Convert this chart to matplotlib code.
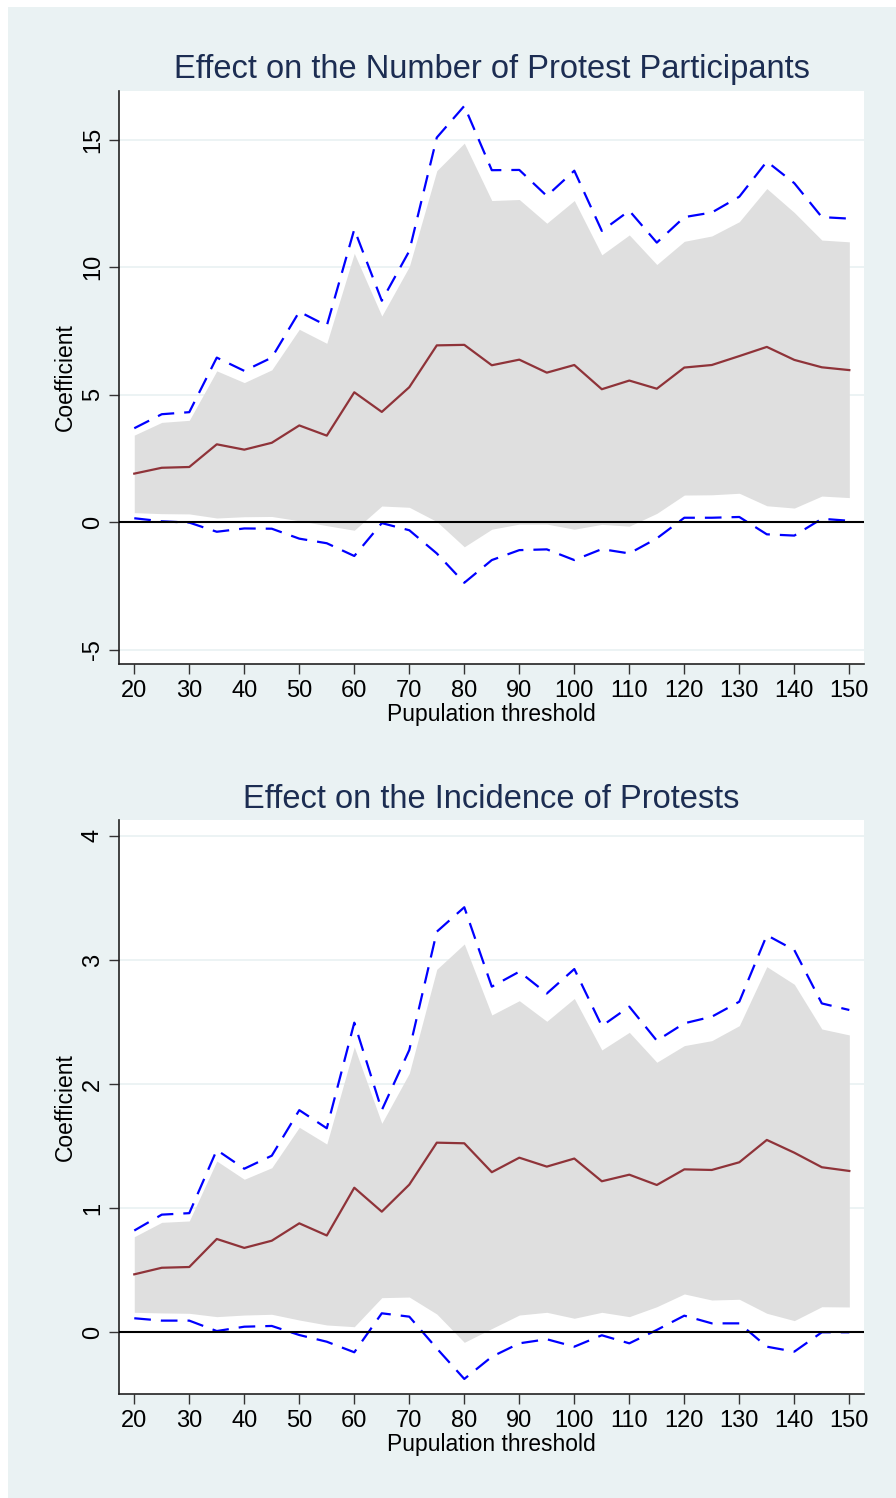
import matplotlib.pyplot as plt
from matplotlib.patches import Rectangle

plt.rcParams['font.family'] = ['Liberation Sans', 'DejaVu Sans']

thresholds = list(range(20, 155, 5))

# panel 1: number of protest participants
part_coef = [1.91, 2.14, 2.17, 3.06, 2.85, 3.12, 3.80, 3.40, 5.10, 4.33, 5.30, 6.94, 6.96, 6.16,
             6.38, 5.87, 6.17, 5.22, 5.56, 5.24, 6.07, 6.17, 6.52, 6.88, 6.37, 6.08, 5.97]
part_hi90 = [3.42, 3.92, 4.00, 5.94, 5.48, 5.98, 7.57, 7.02, 10.55, 8.09, 10.03, 13.79, 14.87, 12.62,
             12.66, 11.73, 12.62, 10.49, 11.27, 10.11, 11.02, 11.23, 11.79, 13.09, 12.15, 11.07, 11.00]
part_lo90 = [0.38, 0.34, 0.33, 0.17, 0.22, 0.23, 0.06, -0.13, -0.31, 0.64, 0.59, 0.03, -0.96, -0.27,
             -0.07, -0.07, -0.27, -0.08, -0.15, 0.35, 1.07, 1.08, 1.14, 0.65, 0.56, 1.03, 0.97]
part_hi95 = [3.69, 4.24, 4.32, 6.46, 5.94, 6.46, 8.26, 7.71, 11.49, 8.69, 10.64, 15.09, 16.33, 13.81,
             13.82, 12.80, 13.79, 11.43, 12.22, 10.97, 11.97, 12.15, 12.77, 14.15, 13.30, 11.97, 11.91]
part_lo95 = [0.16, 0.04, -0.01, -0.37, -0.24, -0.25, -0.64, -0.82, -1.32, -0.03, -0.31, -1.22, -2.37, -1.48,
             -1.09, -1.06, -1.48, -1.05, -1.22, -0.63, 0.18, 0.18, 0.21, -0.47, -0.52, 0.14, 0.06]

# panel 2: incidence of protests
inc_coef = [0.467, 0.52, 0.526, 0.752, 0.68, 0.738, 0.878, 0.78, 1.165, 0.972, 1.19, 1.528, 1.523, 1.29,
            1.407, 1.335, 1.40, 1.217, 1.27, 1.187, 1.313, 1.308, 1.37, 1.55, 1.447, 1.33, 1.30]
inc_hi90 = [0.77, 0.886, 0.897, 1.38, 1.233, 1.326, 1.652, 1.517, 2.30, 1.684, 2.087, 2.925, 3.129, 2.557,
            2.672, 2.506, 2.69, 2.275, 2.417, 2.176, 2.31, 2.35, 2.471, 2.946, 2.804, 2.444, 2.396]
inc_lo90 = [0.161, 0.156, 0.153, 0.126, 0.139, 0.145, 0.099, 0.059, 0.045, 0.279, 0.284, 0.147, -0.081, 0.03,
            0.139, 0.161, 0.113, 0.161, 0.126, 0.206, 0.309, 0.26, 0.266, 0.153, 0.094, 0.206, 0.204]
inc_hi95 = [0.82, 0.948, 0.96, 1.469, 1.318, 1.423, 1.79, 1.644, 2.495, 1.79, 2.275, 3.228, 3.425, 2.785,
            2.906, 2.73, 2.927, 2.468, 2.624, 2.35, 2.49, 2.543, 2.664, 3.20, 3.08, 2.65, 2.597]
inc_lo95 = [0.113, 0.094, 0.094, 0.01, 0.045, 0.051, -0.022, -0.076, -0.161, 0.153, 0.126, -0.13, -0.376, -0.197,
            -0.089, -0.056, -0.116, -0.024, -0.089, 0.019, 0.134, 0.072, 0.072, -0.116, -0.156, 0.0, 0.0]

bg = '#EAF2F3'
fig = plt.figure(figsize=(8.96, 14.98), dpi=100)
fig.patches.append(Rectangle((8 / 896, 0), 1, 1 - 7 / 1498, transform=fig.transFigure,
                             facecolor=bg, edgecolor='none', zorder=-10))


def panel(rect, title, coef, lo90, hi90, lo95, hi95, ylim, yticks):
    ax = fig.add_axes(rect)
    ax.set_facecolor('white')
    ax.fill_between(thresholds, lo90, hi90, color='#DFDFDF', linewidth=0, zorder=1)
    ax.plot(thresholds, coef, color='#8F3339', linewidth=1.6, zorder=3)
    ax.plot(thresholds, hi95, color='#0000FF', linewidth=1.6, linestyle=(0, (7.5, 4.5)), zorder=3)
    ax.plot(thresholds, lo95, color='#0000FF', linewidth=1.6, linestyle=(0, (7.5, 4.5)), zorder=3)
    ax.axhline(0, color='black', linewidth=1.5, zorder=4)
    ax.set_xlim(17.27, 152.67)
    ax.set_ylim(*ylim)
    ax.set_xticks(range(20, 160, 10))
    ax.set_yticks(yticks)
    ax.set_yticklabels([str(t) for t in yticks], rotation=90, va='center')
    for t in yticks:
        ax.axhline(t, color=bg, linewidth=1.3, zorder=0.5)
    ax.tick_params(direction='out', length=7, width=1, labelsize=17, color='#333333', pad=4)
    for s in ['top', 'right']:
        ax.spines[s].set_visible(False)
    for s in ['left', 'bottom']:
        ax.spines[s].set_color('#222222')
        ax.spines[s].set_linewidth(1.2)
    ax.set_xlabel('Pupulation threshold', fontsize=16.5, labelpad=1)
    ax.set_ylabel('Coefficient', fontsize=16.5, labelpad=4)
    ax.set_title(title, fontsize=23.5, color='#1C2D52', pad=9)
    return ax


panel([0.1331, 0.5565, 0.8312, 0.3830], 'Effect on the Number of Protest Participants',
      part_coef, part_lo90, part_hi90, part_lo95, part_hi95, (-5.57, 16.93), [-5, 0, 5, 10, 15])
panel([0.1331, 0.0692, 0.8312, 0.3834], 'Effect on the Incidence of Protests',
      inc_coef, inc_lo90, inc_hi90, inc_lo95, inc_hi95, (-0.50, 4.128), [0, 1, 2, 3, 4])

fig.savefig('out.png', dpi=100)
